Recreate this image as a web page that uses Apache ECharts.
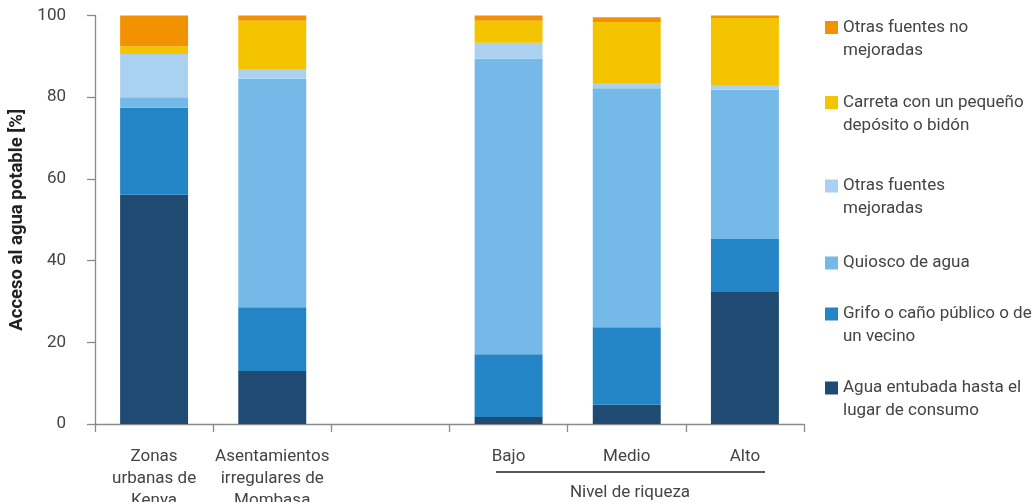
<!DOCTYPE html>
<html><head><meta charset="utf-8">
<script src="https://cdn.jsdelivr.net/npm/echarts@6/dist/echarts.min.js"></script>
<style>html,body{margin:0;padding:0;background:#fff}#c{width:1035px;height:502px}</style>
</head><body><div id="c"></div>
<script>
const categories = ['Zonas\nurbanas de\nKenya', 'Asentamientos\nirregulares de\nMombasa', '', 'Bajo', 'Medio', 'Alto'];
const yTicks = [0, 20, 40, 60, 80, 100];
const seriesNames = [
  'Agua entubada hasta el\nlugar de consumo',
  'Grifo o caño público o de\nun vecino',
  'Quiosco de agua',
  'Otras fuentes\nmejoradas',
  'Carreta con un pequeño\ndepósito o bidón',
  'Otras fuentes no\nmejoradas'
];
const aguaEntubada = [56.1, 13.0, null, 1.7, 4.7, 32.3];
const grifo        = [21.3, 15.6, null, 15.4, 19.0, 13.0];
const quiosco      = [2.6, 55.9, null, 72.3, 58.5, 36.5];
const otrasMejor   = [10.6, 2.2, null, 3.9, 1.1, 1.2];
const carreta      = [1.9, 12.0, null, 5.4, 15.1, 16.4];
const otrasNoMejor = [7.5, 1.3, null, 1.3, 1.2, 0.6];
const seriesValues = [aguaEntubada, grifo, quiosco, otrasMejor, carreta, otrasNoMejor];
const colors = ['#1F4A72', '#2384C6', '#74B9E7', '#ABD1F1', '#F5C400', '#F39200'];
// vertical centre of each legend swatch
const legendCenters = [388, 314, 263, 186, 102.5, 27.5];

const FONT = "'Liberation Sans Narrow', 'Roboto', sans-serif";
const TXT = '#444';
const LH = 23;

const chart = echarts.init(document.getElementById('c'), null, {renderer: 'canvas'});

const legends = seriesNames.map((n, i) => {
  const extra = n.split('\n').length - 1;
  const boxH = LH * (2 * extra + 1);
  return {
    show: true,
    data: [n],
    left: 825,
    top: legendCenters[i] - boxH / 2,
    padding: 0,
    itemWidth: 13,
    itemHeight: 13,
    itemGap: 0,
    icon: 'rect',
    itemStyle: {borderWidth: 0},
    selectedMode: false,
    formatter: name => ' \n'.repeat(extra) + name,
    textStyle: {fontFamily: FONT, fontSize: 17, color: TXT, lineHeight: LH}
  };
});

chart.setOption({
  animation: false,
  backgroundColor: '#fff',
  textStyle: {fontFamily: FONT},
  grid: {left: 95, right: 231, top: 15.5, bottom: 78, containLabel: false, outerBoundsMode: 'none'},
  legend: legends,
  xAxis: {
    type: 'category',
    data: categories,
    axisLine: {lineStyle: {color: '#8a8a8a', width: 1.3}},
    axisTick: {show: true, length: 8, lineStyle: {color: '#8a8a8a', width: 1.3}},
    axisLabel: {fontFamily: FONT, fontSize: 17, color: TXT, lineHeight: 22, margin: 22, interval: 0}
  },
  yAxis: {
    type: 'value',
    min: 0, max: 100, interval: 20,
    name: 'Acceso al agua potable [%]',
    nameLocation: 'middle',
    nameGap: 62,
    nameTextStyle: {fontFamily: FONT, fontSize: 18.5, fontWeight: 'bold', color: '#222'},
    splitLine: {show: false},
    axisLine: {show: true, lineStyle: {color: '#8a8a8a', width: 1.3}},
    axisTick: {show: true, length: 8, lineStyle: {color: '#8a8a8a', width: 1.3}},
    axisLabel: {fontFamily: FONT, fontSize: 17, color: TXT, margin: 29,
      formatter: v => yTicks.indexOf(v) >= 0 ? String(v) : ''}
  },
  series: seriesValues.map((vals, i) => ({
    name: seriesNames[i],
    type: 'bar',
    stack: 'total',
    data: vals,
    barWidth: '57.5%',
    itemStyle: {color: colors[i]},
    emphasis: {disabled: true}
  })),
  graphic: [
    {type: 'line', shape: {x1: 496, y1: 472, x2: 765, y2: 472}, style: {stroke: '#222', lineWidth: 1.3}},
    {type: 'text', x: 630, y: 493, style: {text: 'Nivel de riqueza', fontFamily: FONT, fontSize: 17, fill: TXT, align: 'center', verticalAlign: 'middle'}}
  ]
});
</script>
</body></html>
